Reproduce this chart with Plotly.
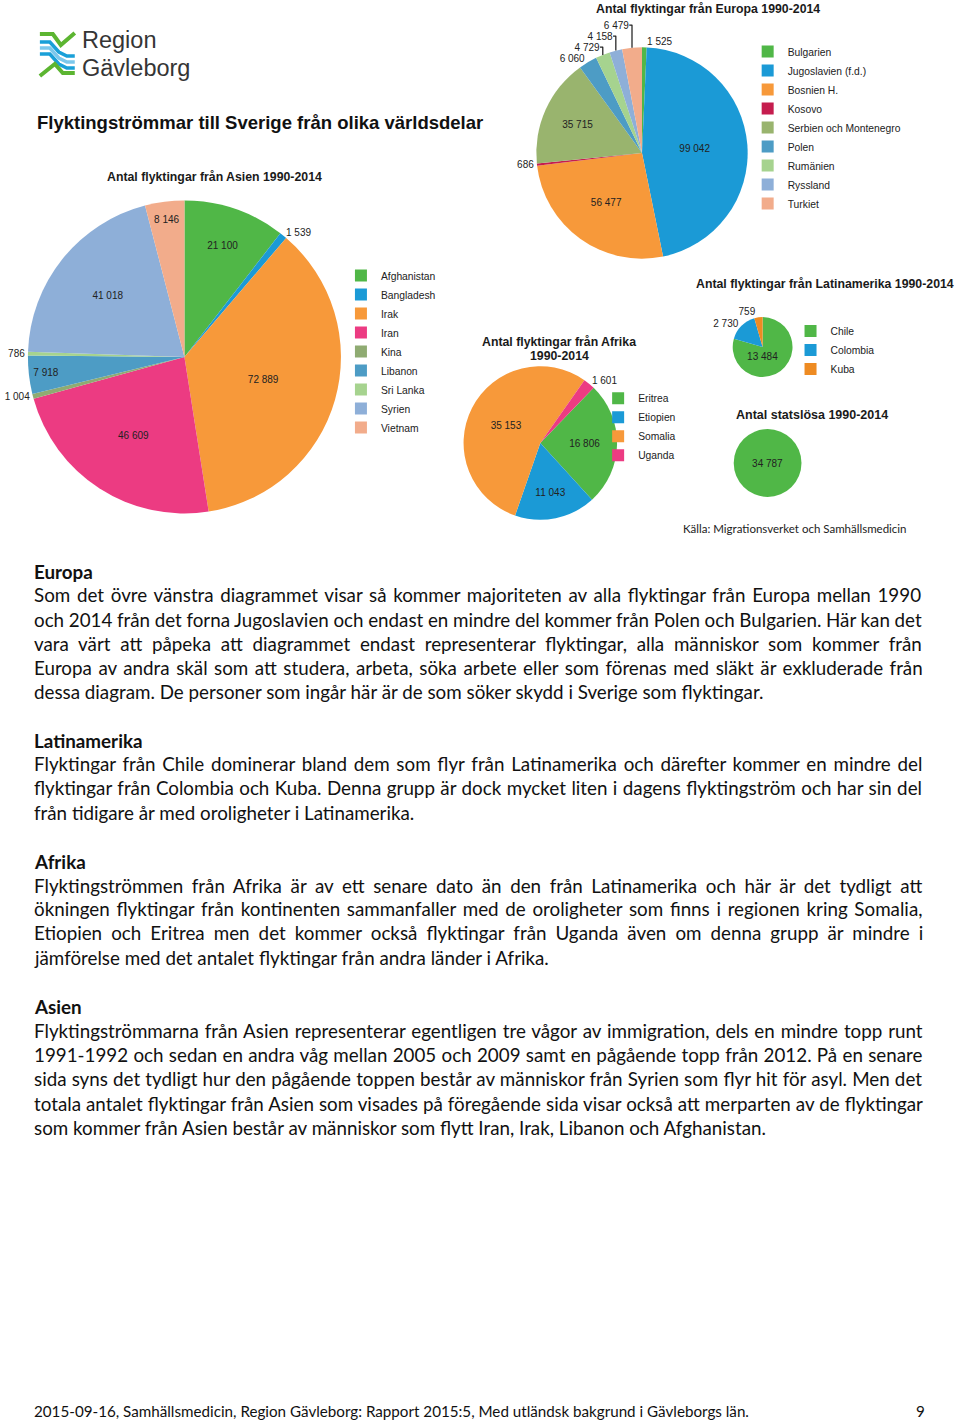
import plotly.graph_objects as go

W, H = 960, 1421

# ---------------- data ----------------
europe_labels = ["Bulgarien", "Jugoslavien (f.d.)", "Bosnien H.", "Kosovo", "Serbien och Montenegro",
                 "Polen", "Rumänien", "Ryssland", "Turkiet"]
europe_values = [1525, 99042, 56477, 686, 35715, 6060, 4729, 4158, 6479]

asia_labels = ["Afghanistan", "Bangladesh", "Irak", "Iran", "Kina", "Libanon", "Sri Lanka", "Syrien", "Vietnam"]
asia_values = [21100, 1539, 72889, 46609, 1004, 7918, 786, 41018, 8146]

africa_labels = ["Eritrea", "Etiopien", "Somalia", "Uganda"]
africa_values = [16806, 11043, 35153, 1601]

latin_labels = ["Chile", "Colombia", "Kuba"]
latin_values = [13484, 2730, 759]

stateless_labels = ["Statslösa"]
stateless_values = [34787]

# ---------------- styles ----------------
GREEN = "#50b747"
BLUE = "#1b9ad6"
ORANGE = "#f7993a"
PINK = "#ec3b82"
CRIMSON = "#c51d4e"
OLIVE = "#99b46e"
TEAL = "#4d9cc5"
LGREEN = "#a6d38f"
LBLUE = "#8eafd8"
SALMON = "#f2ac8b"
KINA = "#8fab72"

europe_colors = [GREEN, BLUE, ORANGE, CRIMSON, OLIVE, TEAL, LGREEN, LBLUE, SALMON]
europe_pos = ["outside", "inside", "inside", "outside", "inside", "outside", "outside", "outside", "outside"]
asia_colors = [GREEN, BLUE, ORANGE, PINK, KINA, TEAL, LGREEN, LBLUE, SALMON]
asia_pos = ["inside", "outside", "inside", "inside", "outside", "inside", "outside", "inside", "inside"]
africa_colors = [GREEN, BLUE, ORANGE, PINK]
africa_pos = ["inside", "inside", "inside", "outside"]
latin_colors = [GREEN, BLUE, "#ee8b22"]
latin_pos = ["inside", "outside", "outside"]

CHART_FONT = "Liberation Sans, Arial, sans-serif"
BODY_FONT = "Lato, sans-serif"
TXT = "#1a1a1a"
BODY_SIZE = 18.8


def px_x(x):
    return x / W


def px_y(y):
    return 1 - y / H


def fmt(v):
    return f"{v:,}".replace(",", " ")


def domain(cx, cy, r):
    return dict(x=[px_x(cx - r), px_x(cx + r)], y=[px_y(cy + r), px_y(cy - r)])


def pie(labels, values, colors, pos, dom, legend, rotation=0, showlegend=True):
    return go.Pie(
        labels=labels, values=values, text=[fmt(v) for v in values],
        textinfo="text", textposition=pos, sort=False, direction="clockwise",
        rotation=rotation, domain=dom, legend=legend, showlegend=showlegend,
        marker=dict(colors=colors, line=dict(width=0)),
        insidetextorientation="horizontal",
        insidetextfont=dict(family=CHART_FONT, size=10, color="#222"),
        outsidetextfont=dict(family=CHART_FONT, size=10, color="#222"),
        hoverinfo="label+value",
    )


fig = go.Figure()
fig.add_trace(pie(europe_labels, europe_values, europe_colors, europe_pos, domain(641, 153, 106), "legend"))
fig.add_trace(pie(asia_labels, asia_values, asia_colors, asia_pos, domain(182, 357, 157), "legend2"))
fig.add_trace(pie(africa_labels, africa_values, africa_colors, africa_pos, domain(539, 443, 77), "legend3", rotation=44))
fig.add_trace(pie(latin_labels, latin_values, latin_colors, latin_pos, domain(762, 347, 30), "legend4"))
fig.add_trace(pie(stateless_labels, stateless_values, [GREEN], ["inside"], domain(767, 463, 34), "legend4",
                  showlegend=False))

leg_common = dict(font=dict(family=CHART_FONT, size=10.3, color="#222"), bgcolor="rgba(0,0,0,0)",
                  xanchor="left", yanchor="top", tracegroupgap=0, itemclick=False)


def leg(text_x, first_y, n):
    # centre the (19px-pitch) legend on the reference's 17.5px-pitch block
    shift = (n - 1) * (19 - 17.5) / 2
    d = dict(leg_common)
    d.update(x=px_x(text_x - 41), y=px_y(first_y - 14 - shift))
    return d


annotations = []


def add_text(x, y, text, size, family=CHART_FONT, bold=False, anchor="left", color=TXT, yanchor="middle",
             borderpad=1):
    annotations.append(dict(
        x=px_x(x), y=px_y(y), xref="paper", yref="paper", xanchor=anchor, yanchor=yanchor,
        text=f"<b>{text}</b>" if bold else text, showarrow=False, borderpad=borderpad,
        font=dict(family=family, size=size, color=color)))


# logo text + main title
add_text(78, 54, "Region", 23.5, color="#353535", yanchor="bottom", borderpad=0)
add_text(78, 54, "Gävleborg", 23.5, color="#353535", yanchor="top", borderpad=0)
add_text(32, 122, "Flyktingströmmar till Sverige från olika världsdelar", 18.5, bold=True, color="#111")

# chart titles
TS = 12.3
add_text(707, 9, "Antal flyktingar från Europa 1990-2014", TS, bold=True, anchor="center")
add_text(212, 177, "Antal flyktingar från Asien 1990-2014", TS, bold=True, anchor="center")
add_text(558, 342, "Antal flyktingar från Afrika", TS, bold=True, anchor="center")
add_text(558, 356, "1990-2014", TS, bold=True, anchor="center")
add_text(825, 284, "Antal flyktingar från Latinamerika 1990-2014", TS, bold=True, anchor="center")
add_text(812, 415, "Antal statslösa 1990-2014", 12.5, bold=True, anchor="center")
add_text(680, 528, "Källa: Migrationsverket och Samhällsmedicin", 11.5, family=BODY_FONT, color="#222")

# body text: (text, y, bold, word-spacing used to justify the line)
body = [
    ("Europa", 571, True, 0),
    ("Som det övre vänstra diagrammet visar så kommer majoriteten av alla flyktingar från Europa mellan 1990", 594, False, 1.9),
    ("och 2014 från det forna Jugoslavien och endast en mindre del kommer från Polen och Bulgarien. Här kan det", 619, False, -0.17),
    ("vara värt att påpeka att diagrammet endast representerar flyktingar, alla människor som kommer från", 643, False, 4.9),
    ("Europa av andra skäl som att studera, arbeta, söka arbete eller som förenas med släkt är exkluderade från", 667, False, 1.7),
    ("dessa diagram. De personer som ingår här är de som söker skydd i Sverige som flyktingar.", 691, False, 0),
    ("Latinamerika", 740, True, 0),
    ("Flyktingar från Chile dominerar bland dem som flyr från Latinamerika och därefter kommer en mindre del", 764, False, 1.95),
    ("flyktingar från Colombia och Kuba. Denna grupp är dock mycket liten i dagens flyktingström och har sin del", 788, False, 0.65),
    ("från tidigare år med oroligheter i Latinamerika.", 812, False, 0),
    ("Afrika", 861, True, 0),
    ("Flyktingströmmen från Afrika är av ett senare dato än den från Latinamerika och här är det tydligt att", 885, False, 3.8),
    ("ökningen flyktingar från kontinenten sammanfaller med de oroligheter som finns i regionen kring Somalia,", 909, False, 1.9),
    ("Etiopien och Eritrea men det kommer också flyktingar från Uganda även om denna grupp är mindre i", 933, False, 4.25),
    ("jämförelse med det antalet flyktingar från andra länder i Afrika.", 957, False, 0),
    ("Asien", 1006, True, 0),
    ("Flyktingströmmarna från Asien representerar egentligen tre vågor av immigration, dels en mindre topp runt", 1030, False, 1.1),
    ("1991-1992 och sedan en andra våg mellan 2005 och 2009 samt en pågående topp från 2012. På en senare", 1054, False, 0.5),
    ("sida syns det tydligt hur den pågående toppen består av människor från Syrien som flyr hit för asyl. Men det", 1078, False, 0.35),
    ("totala antalet flyktingar från Asien som visades på föregående sida visar också att merparten av de flyktingar", 1103, False, 0.2),
    ("som kommer från Asien består av människor som flytt Iran, Irak, Libanon och Afghanistan.", 1127, False, 0),
]
for text, y, bold, ws in body:
    t = f'<span style="word-spacing:{ws}px">{text}</span>' if ws else text
    add_text(29, y, t, BODY_SIZE, family=BODY_FONT, bold=bold, color="#111")

add_text(29, 1411, "2015-09-16, Samhällsmedicin, Region Gävleborg: Rapport 2015:5, Med utländsk bakgrund i Gävleborgs län.",
         15.2, family=BODY_FONT, color="#111")
add_text(914, 1411, "9", 15.2, family=BODY_FONT, color="#111")


# logo shapes (decorative)
def path(points):
    return "M " + " L ".join(f"{px_x(x):.5f},{px_y(y):.5f}" for x, y in points)


LOGO_G = "#5cb531"
LOGO_B = "#1aa0d8"
LOGO_LB = "#7cc8ec"
shapes = [
    dict(type="path", xref="paper", yref="paper", path=path([(37, 34), (50, 34), (58, 45), (72, 33)]),
         line=dict(color=LOGO_G, width=4)),
    dict(type="path", xref="paper", yref="paper", path=path([(37, 42), (47, 42), (56, 52), (64, 56), (72, 56)]),
         line=dict(color=LOGO_B, width=3.5)),
    dict(type="path", xref="paper", yref="paper", path=path([(37, 48), (47, 48), (56, 58), (64, 62), (72, 62)]),
         line=dict(color=LOGO_LB, width=3.5)),
    dict(type="path", xref="paper", yref="paper", path=path([(37, 54), (47, 54), (56, 64), (64, 68), (72, 68)]),
         line=dict(color=LOGO_B, width=3.5)),
    dict(type="path", xref="paper", yref="paper", path=path([(37, 76), (52, 64), (60, 73), (72, 73)]),
         line=dict(color=LOGO_G, width=4)),
]

fig.update_layout(
    width=W, height=H, margin=dict(l=0, r=0, t=0, b=0),
    paper_bgcolor="white", plot_bgcolor="white",
    annotations=annotations, shapes=shapes,
    legend=leg(788, 57, len(europe_labels)),
    legend2=leg(380, 281, len(asia_labels)),
    legend3=leg(638, 400, len(africa_labels)),
    legend4=leg(831, 332, len(latin_labels)),
)

fig.write_html("out.html")
